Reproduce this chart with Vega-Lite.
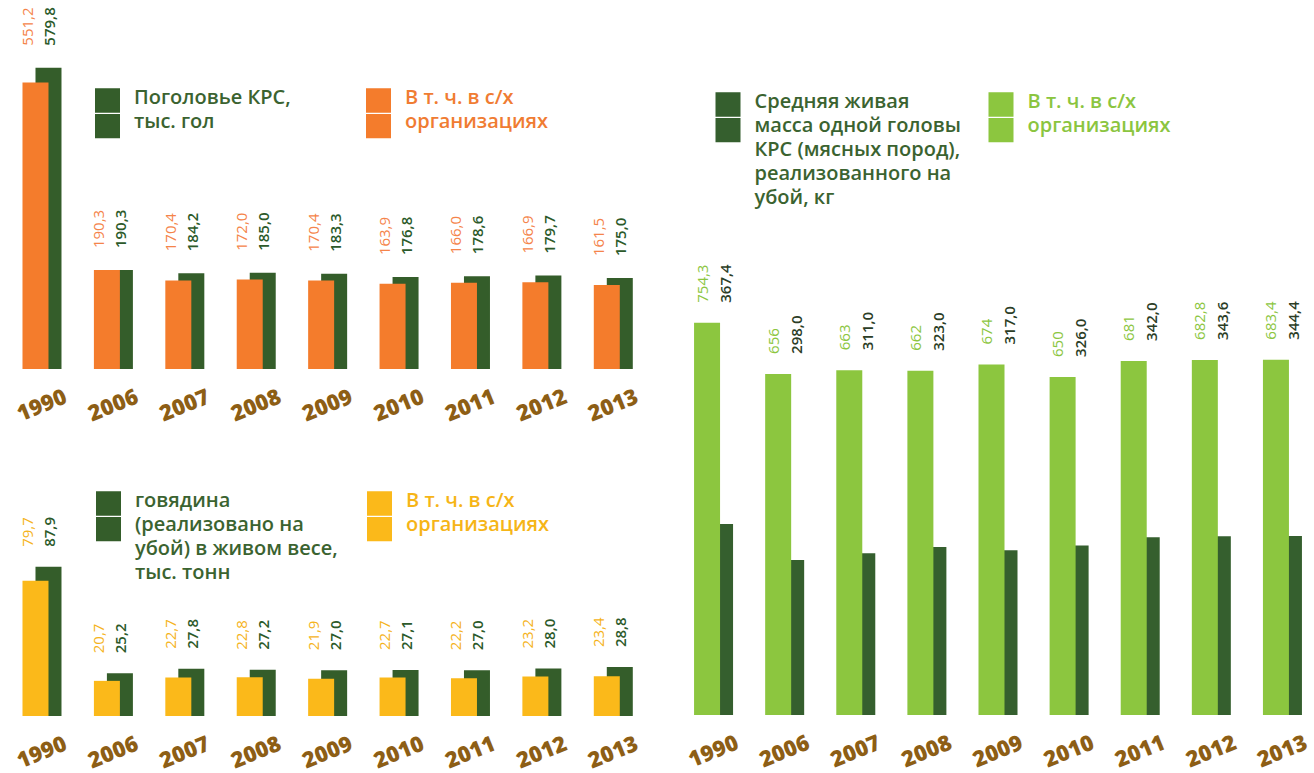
{
  "$schema": "https://vega.github.io/schema/vega-lite/v6.json",
  "background": "white",
  "padding": 0,
  "config": {
    "view": {"stroke": null},
    "font": "Open Sans",
    "locale": {"number": {"decimal": ",", "thousands": " ", "grouping": [3], "currency": ["", ""]}},
    "axis": {"domain": false, "ticks": false, "tickSize": 0, "grid": false, "title": null, "labelAngle": -22, "labelAlign": "center", "labelBaseline": "middle", "labelFont": "Open Sans", "labelFontSize": 22, "labelFontWeight": 800, "labelColor": "#8d5e15", "labelOverlap": false, "labelPadding": 35},
    "legend": {"padding": 0, "labelFont": "Open Sans", "labelFontSize": 20, "labelFontWeight": 600, "labelBaseline": "top", "labelLimit": 500, "labelOffset": 14, "symbolSize": 625, "symbolType": "M-1,0H1V1.95H-1ZM-1,2.05H1V4H-1Z", "symbolStrokeWidth": 0, "direction": "horizontal", "columns": 2, "orient": "none", "title": null}
  },
  "datasets": {
    "cattle": [
      {"year": "1990", "total": 579.8, "org": 551.2},
      {"year": "2006", "total": 190.3, "org": 190.3},
      {"year": "2007", "total": 184.2, "org": 170.4},
      {"year": "2008", "total": 185.0, "org": 172.0},
      {"year": "2009", "total": 183.3, "org": 170.4},
      {"year": "2010", "total": 176.8, "org": 163.9},
      {"year": "2011", "total": 178.6, "org": 166.0},
      {"year": "2012", "total": 179.7, "org": 166.9},
      {"year": "2013", "total": 175.0, "org": 161.5}
    ],
    "beef": [
      {"year": "1990", "total": 87.9, "org": 79.7},
      {"year": "2006", "total": 25.2, "org": 20.7},
      {"year": "2007", "total": 27.8, "org": 22.7},
      {"year": "2008", "total": 27.2, "org": 22.8},
      {"year": "2009", "total": 27.0, "org": 21.9},
      {"year": "2010", "total": 27.1, "org": 22.7},
      {"year": "2011", "total": 27.0, "org": 22.2},
      {"year": "2012", "total": 28.0, "org": 23.2},
      {"year": "2013", "total": 28.8, "org": 23.4}
    ],
    "weight": [
      {"year": "1990", "total": 367.4, "org": 754.3},
      {"year": "2006", "total": 298.0, "org": 656},
      {"year": "2007", "total": 311.0, "org": 663},
      {"year": "2008", "total": 323.0, "org": 662},
      {"year": "2009", "total": 317.0, "org": 674},
      {"year": "2010", "total": 326.0, "org": 650},
      {"year": "2011", "total": 342.0, "org": 681},
      {"year": "2012", "total": 343.6, "org": 682.8},
      {"year": "2013", "total": 344.4, "org": 683.4}
    ]
  },
  "resolve": {"scale": {"color": "independent"}, "legend": {"color": "independent"}},
  "spacing": 29,
  "hconcat": [
    {
      "resolve": {"scale": {"color": "independent"}, "legend": {"color": "independent"}},
      "spacing": 16,
      "vconcat": [
        {
          "width": 649,
          "height": 369,
          "data": {"name": "cattle"},
          "encoding": {
            "x": {"field": "year", "type": "nominal", "sort": null, "scale": {"paddingInner": 0, "paddingOuter": 0.044, "align": 1}, "axis": {"labelPadding": 36}}
          },
          "layer": [
            {
              "mark": {"type": "bar", "width": 26, "xOffset": 6.5},
              "encoding": {
                "y": {"field": "total", "type": "quantitative", "scale": {"domain": [0, 710]}, "axis": null},
                "color": {"datum": "total", "scale": {"domain": ["total", "org"], "range": ["#345d2a", "#f47c2c"]},
                  "legend": {"legendX": 95, "legendY": 75.5, "columnPadding": 75,
                    "labelExpr": "datum.value === 'total' ? ['Поголовье КРС,', 'тыс. гол'] : ['В т. ч. в с/х', 'организациях']",
                    "encode": {"labels": {"update": {"fill": {"signal": "datum.value === 'total' ? '#3b6330' : '#f07c32'"}, "lineHeight": {"value": 24}}}}}}
              }
            },
            {
              "mark": {"type": "bar", "width": 26, "xOffset": -6.5},
              "encoding": {
                "y": {"field": "org", "type": "quantitative", "scale": {"domain": [0, 710]}, "axis": null},
                "color": {"datum": "org", "scale": {"domain": ["total", "org"], "range": ["#345d2a", "#f47c2c"]}}
              }
            },
            {
              "mark": {"type": "text", "angle": 270, "align": "left", "baseline": "middle", "dx": 22, "dy": 8, "fontSize": 15, "fontWeight": 600, "color": "#2c5a2a"},
              "encoding": {
                "y": {"field": "total", "type": "quantitative", "scale": {"domain": [0, 710]}, "axis": null},
                "text": {"field": "total", "type": "quantitative", "format": ".1f"}
              }
            },
            {
              "mark": {"type": "text", "angle": 270, "align": "left", "baseline": "middle", "dx": 22, "dy": -14, "fontSize": 15, "fontWeight": "normal", "color": "#f5844a"},
              "encoding": {
                "y": {"field": "total", "type": "quantitative", "scale": {"domain": [0, 710]}, "axis": null},
                "text": {"field": "org", "type": "quantitative", "format": ".1f"}
              }
            }
          ]
        },
        {
          "width": 649,
          "height": 275,
          "data": {"name": "beef"},
          "encoding": {
            "x": {"field": "year", "type": "nominal", "sort": null, "scale": {"paddingInner": 0, "paddingOuter": 0.044, "align": 1}, "axis": {"labelPadding": 36}}
          },
          "layer": [
            {
              "mark": {"type": "bar", "width": 26, "xOffset": 6.5},
              "encoding": {
                "y": {"field": "total", "type": "quantitative", "scale": {"domain": [0, 162]}, "axis": null},
                "color": {"datum": "total", "scale": {"domain": ["total", "org"], "range": ["#345d2a", "#fbb91a"]},
                  "legend": {"legendX": 96, "legendY": 37.5, "columnPadding": 29,
                    "labelExpr": "datum.value === 'total' ? ['говядина', '(реализовано на', 'убой) в живом весе,', 'тыс. тонн'] : ['В т. ч. в с/х', 'организациях', '', '']",
                    "encode": {"labels": {"update": {"fill": {"signal": "datum.value === 'total' ? '#3b6330' : '#f6b517'"}, "lineHeight": {"value": 24}}}}}}
              }
            },
            {
              "mark": {"type": "bar", "width": 26, "xOffset": -6.5},
              "encoding": {
                "y": {"field": "org", "type": "quantitative", "scale": {"domain": [0, 162]}, "axis": null},
                "color": {"datum": "org", "scale": {"domain": ["total", "org"], "range": ["#345d2a", "#fbb91a"]}}
              }
            },
            {
              "mark": {"type": "text", "angle": 270, "align": "left", "baseline": "middle", "dx": 20, "dy": 8, "fontSize": 15, "fontWeight": 600, "color": "#2c5a2a"},
              "encoding": {
                "y": {"field": "total", "type": "quantitative", "scale": {"domain": [0, 162]}, "axis": null},
                "text": {"field": "total", "type": "quantitative", "format": ".1f"}
              }
            },
            {
              "mark": {"type": "text", "angle": 270, "align": "left", "baseline": "middle", "dx": 20, "dy": -14, "fontSize": 15, "fontWeight": "normal", "color": "#f5b31b"},
              "encoding": {
                "y": {"field": "total", "type": "quantitative", "scale": {"domain": [0, 162]}, "axis": null},
                "text": {"field": "org", "type": "quantitative", "format": ".1f"}
              }
            }
          ]
        }
      ]
    },
    {
      "width": 640,
      "height": 715,
      "data": {"name": "weight"},
      "encoding": {
        "x": {"field": "year", "type": "nominal", "sort": null, "scale": {"paddingInner": 0, "paddingOuter": 0}, "axis": {"labelPadding": 36}}
      },
      "layer": [
        {
          "mark": {"type": "bar", "width": 26, "xOffset": 6.5},
          "encoding": {
            "y": {"field": "total", "type": "quantitative", "scale": {"domain": [0, 1375]}, "axis": null},
            "color": {"datum": "total", "scale": {"domain": ["total", "org"], "range": ["#355f2e", "#8cc63f"]},
              "legend": {"legendX": 37.5, "legendY": 79.5, "columnPadding": 27,
                "labelExpr": "datum.value === 'total' ? ['Средняя живая', 'масса одной головы', 'КРС (мясных пород),', 'реализованного на', 'убой, кг'] : ['В т. ч. в с/х', 'организациях', '', '', '']",
                "encode": {"labels": {"update": {"fill": {"signal": "datum.value === 'total' ? '#3b6330' : '#8bc53f'"}, "lineHeight": {"value": 24}}}}}}
          }
        },
        {
          "mark": {"type": "bar", "width": 26, "xOffset": -6.5},
          "encoding": {
            "y": {"field": "org", "type": "quantitative", "scale": {"domain": [0, 1375]}, "axis": null},
            "color": {"datum": "org", "scale": {"domain": ["total", "org"], "range": ["#355f2e", "#8cc63f"]}}
          }
        },
        {
          "mark": {"type": "text", "angle": 270, "align": "left", "baseline": "middle", "dx": 20, "dy": 12, "fontSize": 15, "fontWeight": 600, "color": "#2b3d26"},
          "encoding": {
            "y": {"field": "org", "type": "quantitative", "scale": {"domain": [0, 1375]}, "axis": null},
            "text": {"field": "total", "type": "quantitative", "format": ".1f"}
          }
        },
        {
          "mark": {"type": "text", "angle": 270, "align": "left", "baseline": "middle", "dx": 20, "dy": -11, "fontSize": 15, "fontWeight": "normal", "color": "#8cc63f"},
          "encoding": {
            "y": {"field": "org", "type": "quantitative", "scale": {"domain": [0, 1375]}, "axis": null},
            "text": {"field": "org", "type": "quantitative", "format": "~f"}
          }
        }
      ]
    }
  ]
}
